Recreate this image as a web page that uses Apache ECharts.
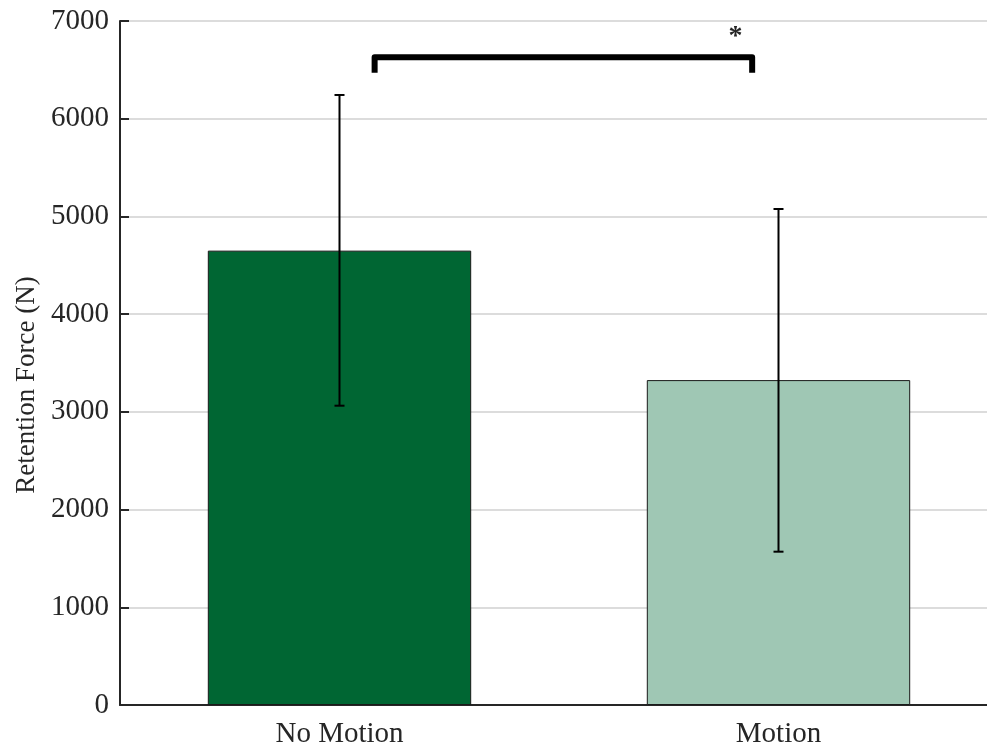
<!DOCTYPE html>
<html>
<head>
<meta charset="utf-8">
<script src="https://cdn.jsdelivr.net/npm/echarts@6/dist/echarts.min.js"></script>
<style>html,body{margin:0;padding:0;background:#fff}#c{width:987px;height:749px}</style>
</head>
<body>
<div id="c"></div>
<script>
var categories = ['No Motion', 'Motion'];
var means = [4650, 3325];
var errLow = [3063, 1569];
var errHigh = [6243, 5076];
var barColors = ['#006633', '#9fc7b4'];
var yTicks = [0, 1000, 2000, 3000, 4000, 5000, 6000, 7000];
var bracketX = [0.08, 0.94];      // positions in category-index units
var bracketY = [6470, 6630];      // foot, top
var sigLabel = '*';
var sigPos = [0.902, 6840];

var font = '"Liberation Serif", "DejaVu Serif", serif';
var chart = echarts.init(document.getElementById('c'));

function fracX(api, f, v) {
  var p0 = api.coord([0, v]);
  var p1 = api.coord([1, v]);
  return [p0[0] + f * (p1[0] - p0[0]), p0[1]];
}

chart.setOption({
  animation: false,
  grid: { left: 120, right: -11, top: 21, bottom: 44, containLabel: false, outerBoundsMode: 'none' },
  xAxis: {
    type: 'category',
    data: categories,
    axisLine: { show: true, lineStyle: { color: '#262626', width: 2 } },
    axisTick: { show: false },
    axisLabel: { color: '#262626', fontFamily: font, fontSize: 29, margin: 15 },
    splitLine: { show: false }
  },
  yAxis: {
    type: 'value',
    min: yTicks[0],
    max: yTicks[yTicks.length - 1],
    interval: 1000,
    name: 'Retention Force (N)',
    nameLocation: 'middle',
    nameGap: 72,
    nameTextStyle: { color: '#262626', fontFamily: font, fontSize: 27, padding: [0, 44, 0, 0] },
    axisLine: { show: true, lineStyle: { color: '#262626', width: 2 } },
    axisTick: { show: true, inside: true, length: 9, lineStyle: { color: '#262626', width: 2 } },
    axisLabel: { color: '#262626', fontFamily: font, fontSize: 29, margin: 11,
      formatter: function (v) { return String(v); } },
    splitLine: { show: true, lineStyle: { color: '#dcdcdc', width: 2 } }
  },
  series: [
    {
      type: 'bar',
      barWidth: '60%',
      data: means.map(function (v, i) {
        return { value: v, itemStyle: { color: barColors[i], borderColor: '#1a1a1a', borderWidth: 1 } };
      }),
      z: 2
    },
    {
      type: 'custom',
      z: 5,
      data: categories.map(function (c, i) { return [i, errLow[i], errHigh[i]]; }),
      renderItem: function (params, api) {
        var lo = api.coord([api.value(0), api.value(1)]);
        var hi = api.coord([api.value(0), api.value(2)]);
        var x = lo[0], hw = 5;
        var st = { stroke: '#000', lineWidth: 2, fill: null };
        return {
          type: 'group',
          children: [
            { type: 'line', shape: { x1: x, y1: lo[1], x2: x, y2: hi[1] }, style: st },
            { type: 'line', shape: { x1: x - hw, y1: lo[1], x2: x + hw, y2: lo[1] }, style: st },
            { type: 'line', shape: { x1: x - hw, y1: hi[1], x2: x + hw, y2: hi[1] }, style: st }
          ]
        };
      }
    },
    {
      type: 'custom',
      z: 6,
      data: [[0, 0]],
      renderItem: function (params, api) {
        var a = fracX(api, bracketX[0], bracketY[0]);
        var b = fracX(api, bracketX[0], bracketY[1]);
        var c = fracX(api, bracketX[1], bracketY[1]);
        var d = fracX(api, bracketX[1], bracketY[0]);
        var s = fracX(api, sigPos[0], sigPos[1]);
        return {
          type: 'group',
          children: [
            { type: 'polyline', shape: { points: [a, b, c, d] },
              style: { stroke: '#000', lineWidth: 6, fill: null, lineJoin: 'round', lineCap: 'butt' } },
            { type: 'text', x: s[0], y: s[1],
              style: { text: sigLabel, fontFamily: font, fontSize: 28, fontWeight: 'bold', fill: '#262626', align: 'center', verticalAlign: 'middle' } }
          ]
        };
      }
    }
  ]
});
</script>
</body>
</html>
